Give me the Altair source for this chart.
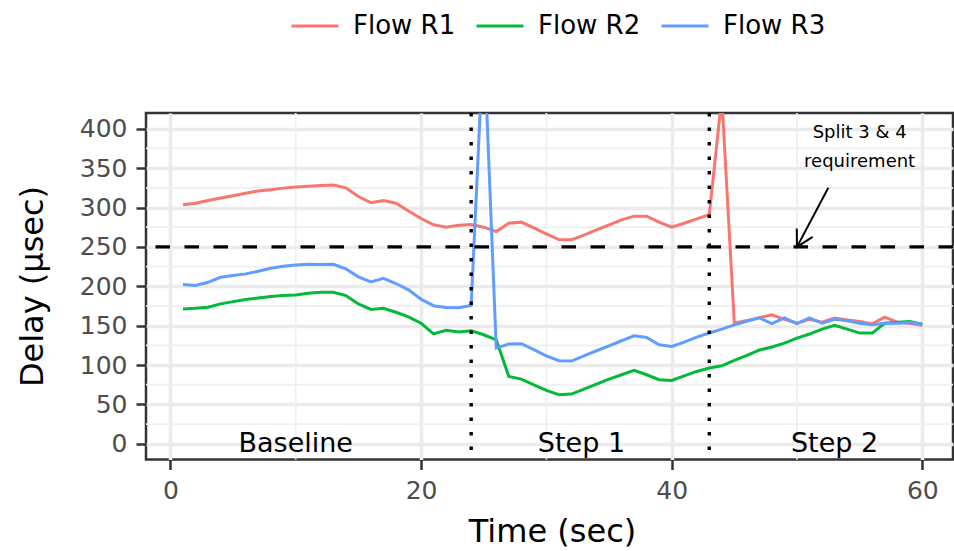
import altair as alt
import pandas as pd

# ---------------- data ----------------
time = list(range(1, 61))
flow_r1 = [303.4, 305.5, 309, 312, 315, 318, 321, 322.5, 324.6, 326,
           327, 328, 328.5, 325, 314, 306, 309, 305.5, 295.5, 286,
           278, 275, 277.5, 278.5, 275, 269.5, 280, 281.4, 274, 266.5,
           259.3, 259, 265, 271.6, 278, 284.3, 289, 289, 281.4, 275,
           280, 285.6, 291, 440, 153, 156.4, 160.2, 163.8, 158, 153,
           158, 154.4, 159.5, 157.3, 155.2, 152.2, 160.7, 154.4, 153, 150]
flow_r2 = [171.2, 172, 173.3, 177.6, 180.5, 183.1, 185.2, 186.9, 188.2, 189,
           191.1, 192.4, 192.4, 188.2, 177.6, 170.5, 172, 167, 161, 153,
           139.5, 144, 142, 143.5, 138.4, 132, 85.5, 82.1, 74.9, 67.7,
           62.2, 63.1, 69.4, 75.8, 82.1, 87.6, 93.1, 87.6, 81.3, 80.4,
           86.3, 91.8, 96.1, 99, 105.8, 112.2, 119, 122.8, 127.8, 134.2,
           139.3, 145.6, 150.3, 145.6, 140.5, 140.5, 153, 154.4, 155.2, 151.7]
flow_r3 = [202.1, 200.9, 205, 211.4, 213.6, 215.7, 219, 222.9, 225.4, 227.1,
           228, 227.6, 227.8, 222, 212, 205.5, 210, 203.5, 195.5, 183.5,
           175.3, 173, 172.8, 175.5, 520, 121.5, 126.6, 127, 119.4, 111.7,
           105.4, 105, 111.7, 118.1, 124.4, 130.8, 137.1, 135, 125.7, 123.6,
           129.1, 135.5, 140.6, 145.6, 151, 155.5, 159.8, 152.6, 159.8, 152.6,
           159.8, 153, 158, 156.3, 153, 151, 153, 153, 154, 151.7]
flow_names = ["Flow R1", "Flow R2", "Flow R3"]
flow_colors = ["#F8766D", "#00BA38", "#619CFF"]

x_major = [0, 20, 40, 60]
x_minor = [10, 30, 50]
y_major = [0, 50, 100, 150, 200, 250, 300, 350, 400]
y_minor = [25, 75, 125, 175, 225, 275, 325, 375]

requirement_level = [250]
phase_breaks = [24, 43]
phase_labels = ["Baseline", "Step 1", "Step 2"]
phase_label_x = [10, 32.8, 53]
phase_label_y = [0, 0, 0]

note_lines = ["Split 3 & 4", "requirement"]
note_x = [55, 55]
note_y = [395, 358]

arrow_seg = ["shaft", "shaft", "head", "head", "head"]
arrow_order = [0, 1, 0, 1, 2]
arrow_x = [52.5, 50, 51.25, 50, 49.98]
arrow_y = [325, 250, 262.7, 250, 273.4]

X_DOMAIN = [-1.95, 62.45]
Y_DOMAIN = [-20, 420]
FONT = "DejaVu Sans"

# ---------------- tables ----------------
rows = []
for name, vals in zip(flow_names, [flow_r1, flow_r2, flow_r3]):
    for t, v in zip(time, vals):
        rows.append({"time": t, "delay": v, "flow": name})
df = pd.DataFrame(rows)

xs = alt.Scale(domain=X_DOMAIN, nice=False, zero=False)
ys = alt.Scale(domain=Y_DOMAIN, nice=False, zero=False)

x_axis = alt.Axis(
    values=x_major, title="Time (sec)", grid=True,
    gridColor="#EBEBEB", gridWidth=3.5, domain=False,
    tickColor="#333333", tickWidth=2.5, tickSize=10,
    labelFont=FONT, labelFontSize=25, labelColor="#4D4D4D",
    labelPadding=9, labelFlush=False, labelOverlap=False,
    titleFont=FONT, titleFontSize=32, titleFontWeight="normal",
    titleColor="black", titleX=406, titleY=82,
    titleAlign="center", titleBaseline="alphabetic", titleAngle=0,
)
y_axis = alt.Axis(
    values=y_major, title="Delay (µsec)", grid=True,
    gridColor="#EBEBEB", gridWidth=3.5, domain=False,
    tickColor="#333333", tickWidth=2.5, tickSize=10,
    labelFont=FONT, labelFontSize=25, labelColor="#4D4D4D",
    labelPadding=9, labelFlush=False, labelOverlap=False,
    titleFont=FONT, titleFontSize=32, titleFontWeight="normal",
    titleColor="black", titleX=-114, titleY=173,
    titleAlign="center", titleBaseline="middle", titleAngle=270,
)


def X(field):
    return alt.X(field, scale=xs, axis=x_axis, title="Time (sec)")


def Y(field):
    return alt.Y(field, scale=ys, axis=y_axis, title="Delay (µsec)")


minor_x = alt.Chart(pd.DataFrame({"v": x_minor})).mark_rule(
    color="#EFEFEF", strokeWidth=1.8
).encode(x=X("v:Q"))
minor_y = alt.Chart(pd.DataFrame({"v": y_minor})).mark_rule(
    color="#EFEFEF", strokeWidth=1.8
).encode(y=Y("v:Q"))

lines = alt.Chart(df).mark_line(clip=True, strokeWidth=3).encode(
    x=X("time:Q"),
    y=Y("delay:Q"),
    color=alt.Color(
        "flow:N",
        scale=alt.Scale(domain=flow_names, range=flow_colors),
        legend=alt.Legend(
            title=None, orient="none", legendX=144, legendY=-112,
            direction="horizontal", symbolType="stroke", symbolSize=2209,
            symbolStrokeWidth=3, labelFont=FONT, labelFontSize=26,
            labelColor="black", labelOffset=13, columnPadding=14, padding=0,
        ),
    ),
)

hline = alt.Chart(pd.DataFrame({"v": requirement_level})).mark_rule(
    color="black", strokeWidth=3.2, strokeDash=[14.5, 14.5]
).encode(y=Y("v:Q"))

vlines = alt.Chart(pd.DataFrame({"v": phase_breaks})).mark_rule(
    color="black", strokeWidth=3.4, strokeDash=[3.6, 10.9]
).encode(x=X("v:Q"))

arrow = alt.Chart(pd.DataFrame({
    "x": arrow_x, "y": arrow_y, "seg": arrow_seg, "o": arrow_order
})).mark_line(color="black", strokeWidth=2).encode(
    x=X("x:Q"),
    y=Y("y:Q"),
    detail="seg:N",
    order="o:Q",
)

phase_text = alt.Chart(pd.DataFrame({
    "x": phase_label_x, "y": phase_label_y, "label": phase_labels
})).mark_text(font=FONT, fontSize=27, color="black", align="center",
              baseline="middle").encode(
    x=X("x:Q"),
    y=Y("y:Q"),
    text="label:N",
)

note_text = alt.Chart(pd.DataFrame({
    "x": note_x, "y": note_y, "label": note_lines
})).mark_text(font=FONT, fontSize=18, color="black", align="center",
              baseline="middle").encode(
    x=X("x:Q"),
    y=Y("y:Q"),
    text="label:N",
)

chart = alt.layer(
    minor_x, minor_y, lines, hline, vlines, arrow, phase_text, note_text
).properties(
    width=807, height=346.5,
    autosize=alt.AutoSizeParams(type="none"),
    padding={"left": 146, "top": 113, "right": 1, "bottom": 91.5},
).configure_view(
    stroke="#333333", strokeWidth=2.5
)

chart.save("out.html", embed_options={"renderer": "svg", "actions": False})
